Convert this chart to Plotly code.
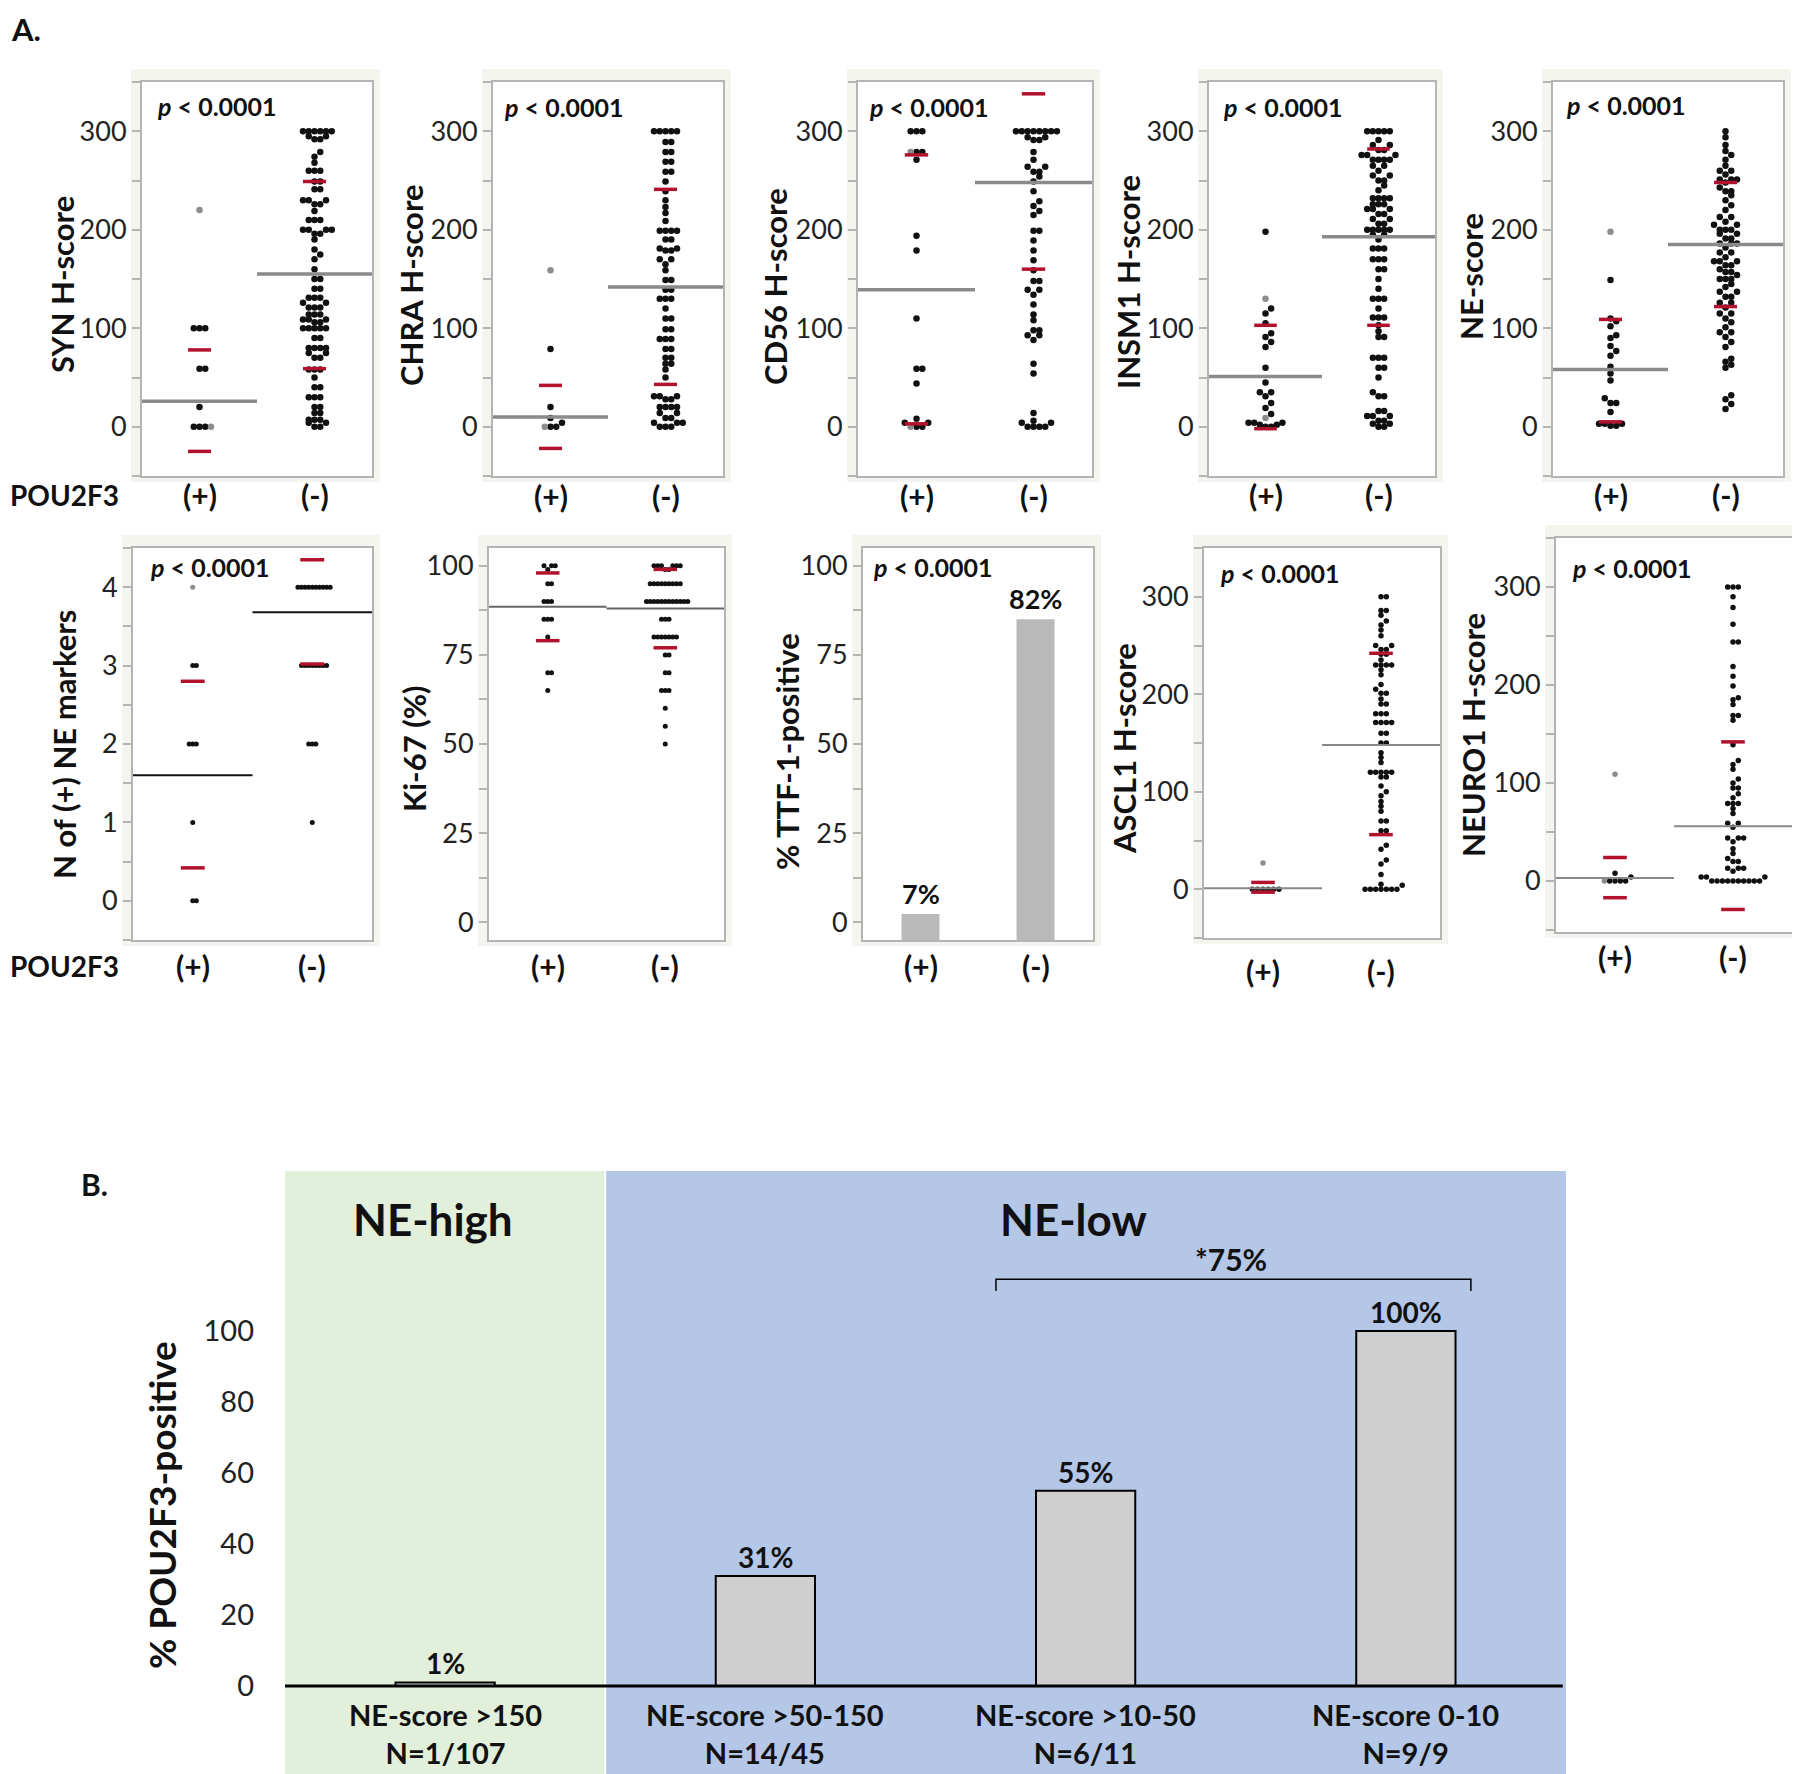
import plotly.graph_objects as go

# the page body keeps an 8px margin, so the figure is shifted by that much
OFF = 8
W, H = 1792, 1766
FONT = "Lato"

# ---------------- Panel A data ----------------
groups = ["(+)", "(-)"]

syn_pos = [100, 100, 100, 59, 59, 20, 0, 0, 0]
syn_pos_gray = [220, 0]
syn_neg = [300, 300, 300, 300, 300, 300, 295, 295, 292, 292, 279, 274, 268, 260, 260, 260,
           249, 249, 241, 241, 230, 230, 230, 226, 226, 219, 210, 210, 210, 200, 200, 200, 200,
           196, 196, 190, 180, 175, 170, 160, 150, 150, 140, 140, 131, 131, 131, 126, 126,
           121, 121, 121, 114, 114, 114, 109, 109, 109, 106, 106, 100, 100, 100, 100, 100,
           90, 90, 80, 80, 80, 80, 75, 75, 70, 70, 58, 58, 58, 50, 40, 40, 30, 30, 30,
           20, 20, 14, 14, 7, 7, 7, 4, 4, 0, 0]
syn_neg_gray = []
syn_mean = [26, 155]
syn_hi = [78, 249]
syn_lo = [-25, 59]

chra_pos = [79, 20, 9, 4, 0, 0]
chra_pos_gray = [159, 0]
chra_neg = [300, 300, 300, 300, 300, 289, 289, 279, 279, 269, 269, 259, 259, 249, 239, 230,
            223, 217, 209, 199, 199, 199, 199, 190, 190, 181, 181, 179, 179, 170, 170, 165,
            159, 149, 149, 139, 139, 130, 130, 130, 120, 110, 110, 99, 99, 89, 89, 89, 79, 79,
            70, 70, 64, 64, 58, 50, 31, 31, 31, 28, 28, 20, 20, 20, 20, 14, 14, 9, 9, 4, 4, 4,
            0, 0, 0]
chra_neg_gray = []
chra_mean = [10, 142]
chra_hi = [42, 241]
chra_lo = [-22, 43]

cd56_pos = [300, 300, 300, 279, 279, 271, 194, 179, 110, 59, 59, 44, 8, 4, 4, 0, 0]
cd56_pos_gray = [279, 0]
cd56_neg = [300, 300, 300, 300, 300, 300, 300, 300, 294, 294, 291, 291, 279, 271, 264, 264,
            259, 259, 254, 249, 239, 229, 224, 219, 215, 199, 199, 189, 179, 169, 159, 148,
            148, 139, 139, 134, 124, 114, 108, 98, 98, 93, 93, 88, 64, 54, 14, 6, 4, 4,
            0, 0, 0, 0]
cd56_neg_gray = []
cd56_mean = [139, 248]
cd56_hi = [276, 338]
cd56_lo = [3, 160]

insm1_pos = [198, 120, 115, 105, 95, 91, 86, 81, 60, 45, 35, 35, 31, 24, 19, 13, 4, 4, 4,
             2, 2, 0, 0]
insm1_pos_gray = [130, 9]
insm1_neg = [300, 300, 300, 300, 300, 291, 286, 286, 281, 281, 276, 276, 276, 271, 271, 271,
             271, 265, 265, 260, 255, 255, 250, 250, 245, 240, 232, 232, 232, 232, 226, 226,
             226, 221, 221, 221, 216, 216, 211, 211, 206, 206, 200, 200, 200, 200, 200, 195,
             195, 190, 181, 181, 181, 170, 170, 170, 160, 160, 150, 140, 130, 130, 130, 120,
             111, 111, 111, 103, 97, 91, 91, 70, 70, 70, 60, 60, 50, 35, 31, 31, 16, 16,
             11, 11, 11, 6, 6, 3, 3, 0, 0]
insm1_neg_gray = []
insm1_mean = [51, 193]
insm1_hi = [103, 282]
insm1_lo = [-2, 103]

ne_pos = [149, 110, 107, 102, 93, 90, 82, 77, 72, 61, 54, 47, 29, 24, 24, 15, 3, 3, 3, 1, 1]
ne_pos_gray = [198]
ne_neg = [300, 294, 286, 280, 276, 271, 265, 260, 260, 256, 251, 251, 251, 248, 243, 239,
          239, 235, 230, 225, 220, 213, 213, 208, 205, 205, 200, 200, 200, 196, 196, 191,
          191, 186, 186, 186, 182, 177, 177, 172, 168, 168, 168, 164, 164, 160, 157, 157,
          154, 150, 150, 150, 145, 142, 137, 137, 132, 132, 126, 126, 121, 115, 115, 110,
          106, 101, 96, 96, 91, 86, 81, 69, 66, 63, 60, 32, 28, 23, 18]
ne_neg_gray = []
ne_mean = [58, 185]
ne_hi = [109, 248]
ne_lo = [5, 122]

nmark_pos = [3, 3, 2, 2, 2, 1, 0, 0]
nmark_pos_gray = [4]
nmark_neg = [4, 4, 4, 4, 4, 4, 4, 4, 4, 4, 3, 3, 3, 3, 3, 3, 3, 3, 2, 2, 2, 1]
nmark_neg_gray = []
nmark_mean = [1.6, 3.68]
nmark_hi = [2.8, 4.35]
nmark_lo = [0.42, 3.02]

ki67_pos = [100, 100, 100, 99, 95, 95, 90, 90, 90, 85, 85, 85, 80, 70, 70, 65]
ki67_pos_gray = []
ki67_neg = [100, 100, 100, 100, 100, 100, 99, 99, 95, 95, 95, 95, 95, 95, 95, 95, 95,
            90, 90, 90, 90, 90, 90, 90, 90, 90, 90, 90, 90, 85, 85, 85,
            80, 80, 80, 80, 80, 80, 80, 75, 75, 70, 70, 65, 65, 65, 60, 55, 50]
ki67_neg_gray = []
ki67_mean = [88.5, 88]
ki67_hi = [98, 99]
ki67_lo = [79, 77]

ttf_bar_top = [2.3, 85]
ttf_labels = ["7%", "82%"]

ascl1_pos = [0, 0, 0, 0, 0, 0]
ascl1_pos_gray = [27]
ascl1_neg = [300, 300, 286, 286, 281, 275, 271, 266, 260, 250, 250, 246, 246, 241, 241, 235,
             230, 230, 230, 230, 225, 220, 210, 205, 201, 201, 195, 190, 190, 180, 180, 180,
             171, 171, 171, 171, 160, 160, 150, 150, 140, 135, 130, 120, 120, 120, 120, 120,
             115, 115, 106, 100, 96, 90, 85, 80, 70, 70, 60, 60, 45, 41, 30, 26, 15, 5, 4,
             0, 0, 0, 0, 0, 0, 0]
ascl1_neg_gray = []
ascl1_mean = [1, 148]
ascl1_hi = [7, 242]
ascl1_lo = [-3, 56]

neuro1_pos = [8, 4, 0, 0, 0, 0]
neuro1_pos_gray = [109, 0]
neuro1_neg = [300, 300, 300, 290, 279, 262, 244, 244, 219, 209, 199, 187, 185, 180, 169, 169,
              164, 139, 123, 119, 114, 104, 100, 95, 95, 89, 85, 79, 79, 79, 74, 69, 59, 59,
              55, 44, 44, 44, 40, 33, 28, 23, 20, 20, 13, 13, 13, 10, 4, 4, 4,
              0, 0, 0, 0, 0, 0, 0, 0, 0, 0]
neuro1_neg_gray = []
neuro1_mean = [3, 56]
neuro1_hi = [24, 142]
neuro1_lo = [-17, -29]

# ---------------- Panel B data ----------------
ne_bins = ["NE-score >150", "NE-score >50-150", "NE-score >10-50", "NE-score 0-10"]
ne_counts = ["N=1/107", "N=14/45", "N=6/11", "N=9/9"]
pou_pct = [1, 31, 55, 100]
pou_labels = ["1%", "31%", "55%", "100%"]


def fx(p):
    return (p - OFF) / W


def fy(p):
    return 1 - (p - OFF) / H


def dodge(values, center, step, tol):
    # spread points that share (nearly) the same value sideways
    out = [0.0] * len(values)
    order = sorted(range(len(values)), key=lambda i: values[i])
    start, k = None, 0
    for i in order:
        v = values[i]
        if start is None or v - start > tol:
            start, k = v, 0
        else:
            k += 1
        off = ((k + 1) // 2) * step * (1 if k % 2 else -1)
        out[i] = center + off
    return out


FRAME = "#b4b4b4"
BG = "#f5f5f0"
RED = "#b3122e"
TXT = "#111111"

# panel layout: frame (left, right, top, bottom) in px of the reference
panels = [
    dict(n=1, title="SYN H-score", tpos=(62, 285), frame=(142, 372, 82, 476), yr=[-50, 350], dt=100, mdt=50,
         pos=syn_pos, posg=syn_pos_gray, neg=syn_neg, negg=syn_neg_gray, mean=syn_mean, hi=syn_hi, lo=syn_lo,
         p=(155, 106), lab_y=495, pou=True, step=0.05, tol=5, size=6.5, mcol="#8a8a8a", mw=3.5),
    dict(n=2, title="CHRA H-score", tpos=(411, 285), frame=(493, 723, 82, 476), yr=[-50, 350], dt=100, mdt=50,
         pos=chra_pos, posg=chra_pos_gray, neg=chra_neg, negg=chra_neg_gray, mean=chra_mean, hi=chra_hi, lo=chra_lo,
         p=(502, 107), lab_y=496, pou=False, step=0.05, tol=5, size=6.5, mcol="#8a8a8a", mw=3.5),
    dict(n=3, title="CD56 H-score", tpos=(775, 287), frame=(858, 1092, 82, 476), yr=[-50, 350], dt=100, mdt=50,
         pos=cd56_pos, posg=cd56_pos_gray, neg=cd56_neg, negg=cd56_neg_gray, mean=cd56_mean, hi=cd56_hi, lo=cd56_lo,
         p=(867, 107), lab_y=496, pou=False, step=0.05, tol=5, size=6.5, mcol="#8a8a8a", mw=3.5),
    dict(n=4, title="INSM1 H-score", tpos=(1128, 282), frame=(1209, 1435, 82, 476), yr=[-50, 350], dt=100, mdt=50,
         pos=insm1_pos, posg=insm1_pos_gray, neg=insm1_neg, negg=insm1_neg_gray, mean=insm1_mean, hi=insm1_hi,
         lo=insm1_lo, p=(1221, 107), lab_y=495, pou=False, step=0.05, tol=5, size=6.5, mcol="#8a8a8a", mw=3.5),
    dict(n=5, title="NE-score", tpos=(1471, 277), frame=(1553, 1783, 82, 476), yr=[-50, 350], dt=100, mdt=50,
         pos=ne_pos, posg=ne_pos_gray, neg=ne_neg, negg=ne_neg_gray, mean=ne_mean, hi=ne_hi, lo=ne_lo,
         p=(1564, 105), lab_y=495, pou=False, step=0.05, tol=5, size=6.5, mcol="#8a8a8a", mw=3.5),
    dict(n=6, title="N of (+) NE markers", tpos=(64, 745), frame=(133, 372, 548, 940), yr=[-0.5, 4.5], dt=1,
         mdt=0.5, pos=nmark_pos, posg=nmark_pos_gray, neg=nmark_neg, negg=nmark_neg_gray, mean=nmark_mean,
         hi=nmark_hi, lo=nmark_lo, p=(148, 567), lab_y=966, pou=True, step=0.03, tol=0.1, size=5,
         mcol="#111111", mw=2),
    dict(n=7, title="Ki-67 (%)", tpos=(414, 749), frame=(489, 724, 548, 940), yr=[-5, 105], dt=25, mdt=12.5,
         pos=ki67_pos, posg=ki67_pos_gray, neg=ki67_neg, negg=ki67_neg_gray, mean=ki67_mean, hi=ki67_hi, lo=ki67_lo,
         p=None, lab_y=966, pou=False, step=0.032, tol=1.5, size=5, mcol="#666666", mw=2),
    dict(n=8, title="% TTF-1-positive", tpos=(787, 752), frame=(863, 1093, 548, 940), yr=[-5, 105], dt=25,
         mdt=12.5, bars=True, p=(871, 567), lab_y=966, pou=False),
    dict(n=9, title="ASCL1 H-score", tpos=(1124, 749), frame=(1204, 1440, 548, 938), yr=[-50, 350], dt=100,
         mdt=50, pos=ascl1_pos, posg=ascl1_pos_gray, neg=ascl1_neg, negg=ascl1_neg_gray, mean=ascl1_mean,
         hi=ascl1_hi, lo=ascl1_lo, p=(1218, 573), lab_y=971, pou=False, step=0.045, tol=4, size=5.5,
         mcol="#888888", mw=2),
    dict(n=10, title="NEURO1 H-score", tpos=(1473, 735), frame=(1556, 1792, 538, 932), yr=[-52, 350], dt=100,
         mdt=50, pos=neuro1_pos, posg=neuro1_pos_gray, neg=neuro1_neg, negg=neuro1_neg_gray, mean=neuro1_mean,
         hi=neuro1_hi, lo=neuro1_lo, p=(1570, 568), lab_y=957, pou=False, step=0.045, tol=4, size=5.5,
         mcol="#888888", mw=2),
]

fig = go.Figure()
shapes = []
annotations = []
layout_axes = {}

for pnl in panels:
    n = pnl["n"]
    xa, ya = f"x{n}", f"y{n}"
    l, r, t, b = pnl["frame"]

    # light panel background, white plot area on top of it
    shapes.append(dict(type="rect", xref="paper", yref="paper", x0=fx(l - 11), x1=fx(r + 8),
                       y0=fy(b + 6), y1=fy(t - 13), fillcolor=BG, line=dict(width=0), layer="below"))
    shapes.append(dict(type="rect", xref="paper", yref="paper", x0=fx(l), x1=fx(r),
                       y0=fy(b), y1=fy(t), fillcolor="white", line=dict(width=0), layer="below"))

    layout_axes[f"xaxis{n}"] = dict(domain=[fx(l), fx(r)], anchor=ya, range=[-0.5, 1.5], showticklabels=False,
                                    ticks="", showline=True, mirror=True, linecolor=FRAME, linewidth=2,
                                    showgrid=False, zeroline=False)
    layout_axes[f"yaxis{n}"] = dict(domain=[fy(b), fy(t)], anchor=xa, range=pnl["yr"], tickmode="linear",
                                    tick0=0, dtick=pnl["dt"], ticks="outside", ticklen=8, tickwidth=2,
                                    tickcolor=FRAME,
                                    minor=dict(tickmode="linear", tick0=0, dtick=pnl["mdt"], ticks="outside",
                                               ticklen=8, tickwidth=2, tickcolor=FRAME, showgrid=False),
                                    showline=True, mirror=True, linecolor=FRAME, linewidth=2, showgrid=False,
                                    zeroline=False, tickfont=dict(family=FONT, size=27, color="#222222"))

    if pnl.get("bars"):
        base = pnl["yr"][0]
        fig.add_trace(go.Bar(x=[0, 1], y=[v - base for v in ttf_bar_top], base=base, width=0.33,
                             marker=dict(color="#b9b9b9", line=dict(width=0)), xaxis=xa, yaxis=ya,
                             showlegend=False))
        for i, (v, s) in enumerate(zip(ttf_bar_top, ttf_labels)):
            annotations.append(dict(x=i, y=v, xref=xa, yref=ya, text=f"<b>{s}</b>", showarrow=False,
                                    xanchor="center", yanchor="bottom", yshift=2,
                                    font=dict(family=FONT, size=27, color=TXT)))
    else:
        for gi, (blk, gry) in enumerate([(pnl["pos"], pnl["posg"]), (pnl["neg"], pnl["negg"])]):
            vals = blk + gry
            xs = dodge(vals, gi, pnl["step"], pnl["tol"])
            fig.add_trace(go.Scatter(x=xs[:len(blk)], y=blk, mode="markers", xaxis=xa, yaxis=ya,
                                     marker=dict(color="#111111", size=pnl["size"]), showlegend=False))
            if gry:
                fig.add_trace(go.Scatter(x=xs[len(blk):], y=gry, mode="markers", xaxis=xa, yaxis=ya,
                                         marker=dict(color="#8c8c8c", size=pnl["size"]), showlegend=False))
        m = pnl["mean"]
        fig.add_trace(go.Scatter(x=[-0.5, 0.5, None, 0.5, 1.5], y=[m[0], m[0], None, m[1], m[1]], mode="lines",
                                 line=dict(color=pnl["mcol"], width=pnl["mw"]), xaxis=xa, yaxis=ya,
                                 showlegend=False))
        hw = 0.1
        for arr in (pnl["hi"], pnl["lo"]):
            fig.add_trace(go.Scatter(x=[-hw, hw, None, 1 - hw, 1 + hw], y=[arr[0], arr[0], None, arr[1], arr[1]],
                                     mode="lines", line=dict(color=RED, width=3.5), xaxis=xa, yaxis=ya,
                                     showlegend=False))

    # axis title
    annotations.append(dict(x=fx(pnl["tpos"][0]), y=fy(pnl["tpos"][1]), xref="paper", yref="paper",
                            text=f"<b>{pnl['title']}</b>", textangle=-90, showarrow=False,
                            xanchor="center", yanchor="middle", font=dict(family=FONT, size=31, color=TXT)))
    # p value
    if pnl["p"]:
        annotations.append(dict(x=fx(pnl["p"][0]), y=fy(pnl["p"][1]), xref="paper", yref="paper",
                                text="<b><i>p</i> < 0.0001</b>", showarrow=False, xanchor="left",
                                yanchor="middle", font=dict(family=FONT, size=25, color=TXT)))
    # group labels
    for i, g in enumerate(groups):
        annotations.append(dict(x=i, y=fy(pnl["lab_y"]), xref=xa, yref="paper", text=f"<b>{g}</b>",
                                showarrow=False, xanchor="center", yanchor="middle",
                                font=dict(family=FONT, size=30, color=TXT)))
    if pnl["pou"]:
        annotations.append(dict(x=fx(OFF), y=fy(pnl["lab_y"]), xref="paper", yref="paper", text="<b>POU2F3</b>",
                                showarrow=False, xanchor="left", yanchor="middle",
                                font=dict(family=FONT, size=28, color=TXT)))

# ---------------- Panel B ----------------
b_top, zero_px = 1171, 1686
px_per = (zero_px - 1331) / 100.0
yr_b = [-(H + OFF - zero_px) / px_per, (zero_px - b_top) / px_per]

layout_axes["xaxis11"] = dict(domain=[fx(285), fx(1566)], anchor="y11", range=[-0.5, 3.5], showticklabels=False,
                              ticks="", showline=False, showgrid=False, zeroline=False)
layout_axes["yaxis11"] = dict(domain=[0, fy(b_top)], anchor="x11", range=yr_b,
                              tickvals=[0, 20, 40, 60, 80, 100], ticks="", showline=False, showgrid=False,
                              zeroline=False, ticklabelstandoff=30,
                              tickfont=dict(family=FONT, size=29, color="#222"))

shapes.append(dict(type="rect", xref="x11", yref="y11", x0=-0.5, x1=0.497, y0=yr_b[0], y1=yr_b[1],
                   fillcolor="#e2efda", line=dict(width=0), layer="below"))
shapes.append(dict(type="rect", xref="x11", yref="y11", x0=0.503, x1=3.5, y0=yr_b[0], y1=yr_b[1],
                   fillcolor="#b4c7e7", line=dict(width=0), layer="below"))

fig.add_trace(go.Bar(x=[0, 1, 2, 3], y=pou_pct, width=0.31, xaxis="x11", yaxis="y11",
                     marker=dict(color="#d0cfd0", line=dict(color="#000", width=2)), showlegend=False))

shapes.append(dict(type="line", xref="x11", yref="y11", x0=-0.5, x1=3.49, y0=0, y1=0,
                   line=dict(color="#000", width=3)))
shapes.append(dict(type="path", xref="x11", yref="y11",
                   path="M 1.72,111.3 L 1.72,114.6 L 3.203,114.6 L 3.203,111.3",
                   line=dict(color="#000", width=1.5)))

for i, (v, s) in enumerate(zip(pou_pct, pou_labels)):
    annotations.append(dict(x=i, y=v, xref="x11", yref="y11", text=f"<b>{s}</b>", showarrow=False,
                            xanchor="center", yanchor="bottom", yshift=0,
                            font=dict(family=FONT, size=28, color=TXT)))
for i, (a, c) in enumerate(zip(ne_bins, ne_counts)):
    annotations.append(dict(x=i, y=fy(1733), xref="x11", yref="paper", text=f"<b>{a}<br>{c}</b>",
                            showarrow=False, xanchor="center", yanchor="middle",
                            font=dict(family=FONT, size=29, color=TXT)))

annotations += [
    dict(x=fx(433), y=fy(1219), xref="paper", yref="paper", text="<b>NE-high</b>", showarrow=False,
         xanchor="center", yanchor="middle", font=dict(family=FONT, size=44, color=TXT)),
    dict(x=fx(1073), y=fy(1219), xref="paper", yref="paper", text="<b>NE-low</b>", showarrow=False,
         xanchor="center", yanchor="middle", font=dict(family=FONT, size=44, color=TXT)),
    dict(x=fx(1231), y=fy(1259), xref="paper", yref="paper", text="<b>*75%</b>", showarrow=False,
         xanchor="center", yanchor="middle", font=dict(family=FONT, size=30, color=TXT)),
    dict(x=fx(161), y=fy(1505), xref="paper", yref="paper", text="<b>% POU2F3-positive</b>", textangle=-90,
         showarrow=False, xanchor="center", yanchor="middle", font=dict(family=FONT, size=37, color=TXT)),
    dict(x=fx(94), y=fy(1184), xref="paper", yref="paper", text="<b>B.</b>", showarrow=False,
         xanchor="center", yanchor="middle", font=dict(family=FONT, size=30, color=TXT)),
    dict(x=fx(OFF + 1), y=fy(OFF), xref="paper", yref="paper", text="<b>A.</b>", showarrow=False,
         xanchor="left", yanchor="top", font=dict(family=FONT, size=31, color=TXT)),
]

fig.update_layout(width=W, height=H, margin=dict(l=0, r=0, t=0, b=0), paper_bgcolor="white",
                  plot_bgcolor="white", shapes=shapes, annotations=annotations, showlegend=False,
                  font=dict(family=FONT), **layout_axes)

fig.write_html("out.html")
